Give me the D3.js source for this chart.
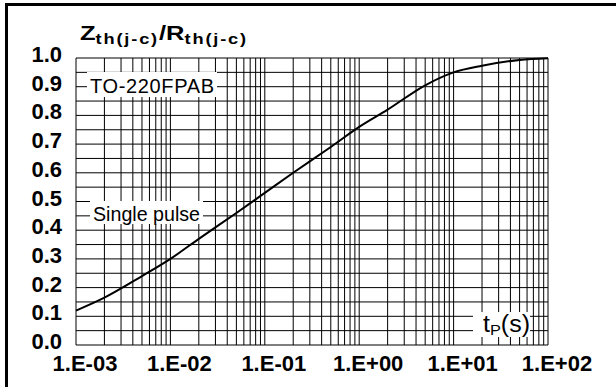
<!DOCTYPE html>
<html>
<head>
<meta charset="utf-8">
<script src="https://cdn.jsdelivr.net/npm/d3@7.9.0/dist/d3.min.js"></script>
<style>
  body { margin: 0; background: #fff; }
  svg { display: block; font-family: "Liberation Sans", Arial, sans-serif; }
</style>
</head>
<body>
<svg id="chart" width="616" height="387"></svg>
<script>
// pulse duration (s) and normalised thermal impedance
const tp = [1e-3, 2e-3, 5e-3, 1e-2, 2e-2, 5e-2, 0.1, 0.2, 0.5, 1, 2, 5, 10, 20, 50, 100];
const zth = [0.12, 0.165, 0.24, 0.30, 0.37, 0.46, 0.53, 0.60, 0.69, 0.76, 0.82, 0.905, 0.95, 0.973, 0.993, 0.999];
const xTickLabels = ["1.E-03", "1.E-02", "1.E-01", "1.E+00", "1.E+01", "1.E+02"];
const yTickLabels = ["0.0", "0.1", "0.2", "0.3", "0.4", "0.5", "0.6", "0.7", "0.8", "0.9", "1.0"];

let svg = d3.select('#chart');
let plotLeft = 76, plotRight = 548, plotTop = 58, plotBottom = 345;

let xScale = d3.scaleLog().domain([1e-3, 1e2]).range([plotLeft, plotRight]);
let yScale = d3.scaleLinear().domain([0, 1]).range([plotBottom, plotTop]);

// outer frame (only top and left edges)
svg.append("rect").attr("x", 5).attr("y", 3).attr("width", 611).attr("height", 3).attr("fill", "#000");
svg.append("rect").attr("x", 5).attr("y", 3).attr("width", 3).attr("height", 384).attr("fill", "#000");

let grid = svg.append("g").attr("stroke", "#000").attr("stroke-width", 1);

// vertical grid: 1..9 in every decade
let xGrid = [];
for (let e = -3; e <= 2; e++) {
  for (let m = 1; m <= 9; m++) {
    let v = m * Math.pow(10, e);
    if (v <= 100.0001) xGrid.push(v);
  }
}
grid.selectAll(".vline")
  .data(xGrid)
  .enter().append("line")
    .attr("class", "vline")
    .attr("x1", d => xScale(d)).attr("x2", d => xScale(d))
    .attr("y1", plotTop).attr("y2", plotBottom);

// horizontal grid every 0.05
let yGrid = d3.range(0, 21).map(i => i * 0.05);
grid.selectAll(".hline")
  .data(yGrid)
  .enter().append("line")
    .attr("class", "hline")
    .attr("x1", plotLeft).attr("x2", plotRight)
    .attr("y1", d => yScale(d)).attr("y2", d => yScale(d));

// label boxes knocking out the grid
function labelBox(x, y, w, h) {
  svg.append("rect").attr("x", x).attr("y", y).attr("width", w).attr("height", h).attr("fill", "#fff");
}
labelBox(87, 72, 130, 25);
labelBox(90, 201, 113, 23);
labelBox(473, 312, 57, 25);

svg.append("text").attr("x", 90).attr("y", 93).attr("font-size", 20)
  .attr("textLength", 124).attr("lengthAdjust", "spacing").text("TO-220FPAB");
svg.append("text").attr("x", 93).attr("y", 221).attr("font-size", 20)
  .attr("textLength", 107).attr("lengthAdjust", "spacingAndGlyphs").text("Single pulse");
let tpLab = svg.append("text").attr("x", 483).attr("y", 332).attr("font-size", 23)
  .attr("textLength", 47).attr("lengthAdjust", "spacingAndGlyphs");
tpLab.append("tspan").text("t");
tpLab.append("tspan").attr("font-size", 15).attr("dy", 3).text("P");
tpLab.append("tspan").attr("dy", -3).text("(s)");

// curve
let line = d3.line()
  .x((d, i) => xScale(tp[i]))
  .y(d => yScale(d))
  .curve(d3.curveMonotoneX);

svg.append("path")
  .datum(zth)
  .attr("fill", "none")
  .attr("stroke", "#000")
  .attr("stroke-width", 2)
  .attr("d", line);

// y tick labels
svg.selectAll(".ylab")
  .data(yTickLabels)
  .enter().append("text")
    .attr("class", "ylab")
    .attr("x", 62)
    .attr("y", (d, i) => yScale(i / 10) + 4)
    .attr("text-anchor", "end")
    .attr("font-size", 22)
    .attr("font-weight", "bold")
    .text(d => d);

// x tick labels
svg.selectAll(".xlab")
  .data(xTickLabels)
  .enter().append("text")
    .attr("class", "xlab")
    .attr("x", (d, i) => xScale(Math.pow(10, i - 3)) + 9)
    .attr("y", 371)
    .attr("text-anchor", "middle")
    .attr("font-size", 22)
    .attr("font-weight", "bold")
    .text(d => d);

// axis title
let title = svg.append("text").attr("x", 80).attr("y", 40).attr("font-weight", "bold").attr("font-size", 21)
  .attr("textLength", 168).attr("lengthAdjust", "spacingAndGlyphs");
title.append("tspan").text("Z");
title.append("tspan").attr("font-size", 15).attr("dy", 4).attr("letter-spacing", 1.5).text("th(j-c)");
title.append("tspan").attr("dy", -4).text("/R");
title.append("tspan").attr("font-size", 15).attr("dy", 4).attr("letter-spacing", 1.5).text("th(j-c)");
</script>
</body>
</html>
